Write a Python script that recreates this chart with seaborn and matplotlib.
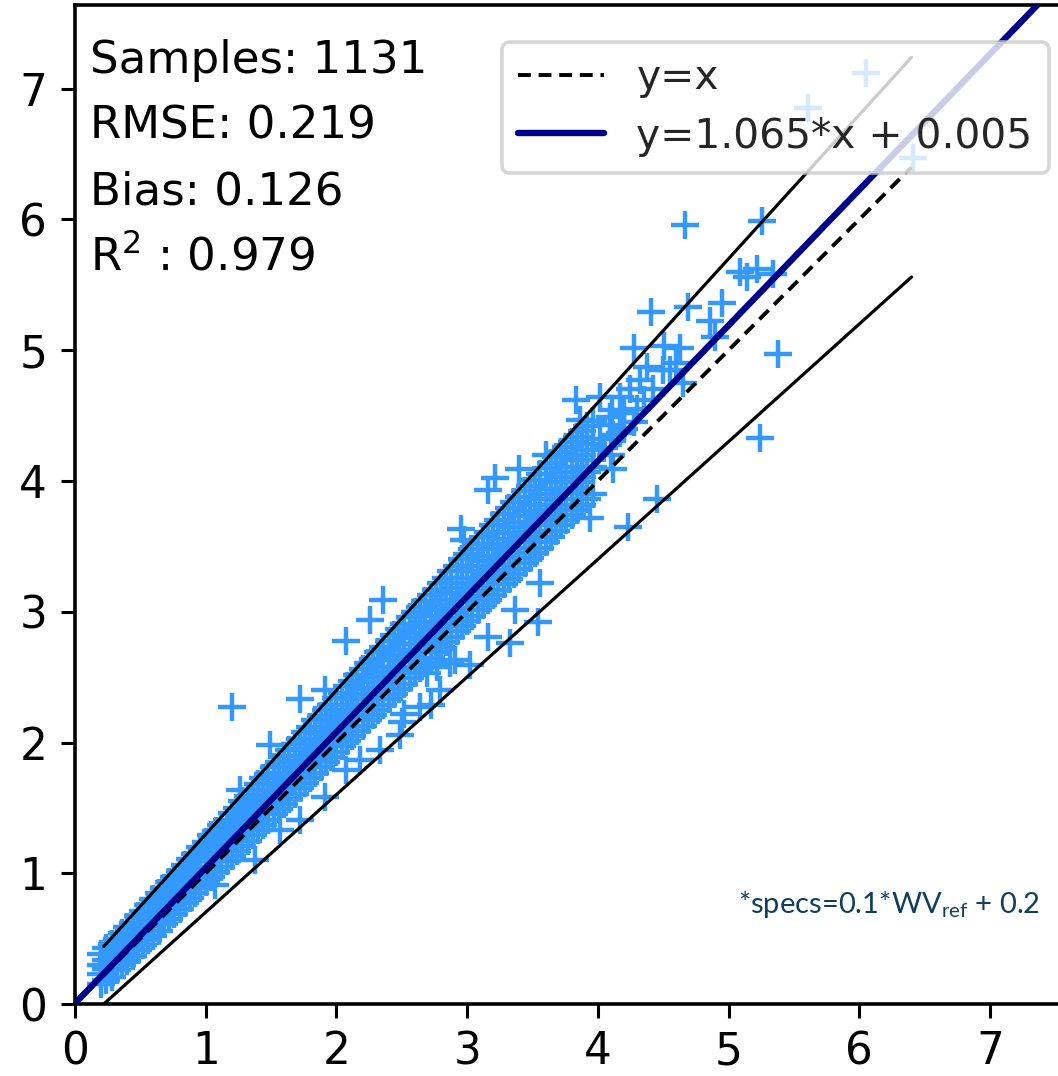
import numpy as np
import pandas as pd
import matplotlib
matplotlib.use("Agg")
import matplotlib.pyplot as plt
import seaborn as sns

# ---------------- data ----------------
band_x = [0.20, 0.28, 0.36, 0.44, 0.52, 0.60, 0.68, 0.76, 0.84, 0.92,
          1.00, 1.08, 1.16, 1.24, 1.32, 1.40, 1.48, 1.56, 1.64, 1.72,
          1.80, 1.88, 1.96, 2.04, 2.12, 2.20, 2.28, 2.36, 2.44, 2.52,
          2.60, 2.68, 2.76, 2.84, 2.92, 3.00, 3.08, 3.16, 3.24, 3.32,
          3.40, 3.48, 3.56, 3.64, 3.72, 3.80, 3.88, 3.96]
band_y = [
    [0.15, 0.23, 0.30, 0.38], [0.21, 0.31, 0.37, 0.46], [0.30, 0.39, 0.45, 0.54],
    [0.37, 0.47, 0.53, 0.62], [0.45, 0.56, 0.62, 0.71], [0.52, 0.64, 0.70, 0.80],
    [0.61, 0.72, 0.79, 0.89], [0.69, 0.80, 0.87, 0.97], [0.77, 0.89, 0.96, 1.06],
    [0.85, 0.97, 1.04, 1.15], [0.93, 1.05, 1.13, 1.24], [1.01, 1.13, 1.21, 1.32],
    [1.09, 1.22, 1.30, 1.41], [1.17, 1.30, 1.39, 1.50], [1.25, 1.38, 1.47, 1.59],
    [1.33, 1.46, 1.56, 1.68], [1.41, 1.55, 1.64, 1.76], [1.49, 1.63, 1.73, 1.85],
    [1.57, 1.71, 1.81, 1.94], [1.65, 1.80, 1.90, 2.03], [1.73, 1.88, 1.99, 2.12],
    [1.81, 1.96, 2.07, 2.20], [1.89, 2.04, 2.16, 2.29], [1.97, 2.13, 2.24, 2.38],
    [2.05, 2.21, 2.33, 2.47], [2.13, 2.29, 2.41, 2.56], [2.21, 2.37, 2.50, 2.64],
    [2.29, 2.46, 2.58, 2.73], [2.37, 2.54, 2.67, 2.82], [2.45, 2.62, 2.75, 2.91],
    [2.53, 2.70, 2.84, 3.00], [2.61, 2.79, 2.92, 3.08], [2.69, 2.87, 3.01, 3.17],
    [2.77, 2.95, 3.09, 3.26], [2.85, 3.03, 3.18, 3.35], [2.93, 3.12, 3.26, 3.44],
    [3.01, 3.20, 3.35, 3.52], [3.09, 3.28, 3.43, 3.61], [3.17, 3.36, 3.52, 3.70],
    [3.25, 3.45, 3.60, 3.79], [3.33, 3.53, 3.69, 3.88], [3.41, 3.61, 3.77, 3.96],
    [3.49, 3.70, 3.86, 4.05], [3.57, 3.78, 3.94, 4.14], [3.66, 3.86, 4.03, 4.22],
    [3.74, 3.95, 4.11, 4.30], [3.82, 4.03, 4.20, 4.38], [3.90, 4.11, 4.28, 4.46]]

band2_x = [0.24, 0.32, 0.40, 0.48, 0.56, 0.64, 0.72, 0.80, 0.88, 0.96,
           1.04, 1.12, 1.20, 1.28, 1.36, 1.44, 1.52, 1.60, 1.68, 1.76,
           1.84, 1.92, 2.00, 2.08, 2.16, 2.24, 2.32, 2.40, 2.48, 2.56,
           2.64, 2.72, 2.80, 2.88, 2.96, 3.04, 3.12, 3.20, 3.28, 3.36,
           3.44, 3.52, 3.60, 3.68, 3.76, 3.84, 3.92]
band2_y = [
    [0.18, 0.27, 0.34, 0.43], [0.26, 0.35, 0.41, 0.50], [0.33, 0.43, 0.49, 0.59],
    [0.41, 0.52, 0.58, 0.67], [0.49, 0.60, 0.66, 0.76], [0.56, 0.68, 0.75, 0.85],
    [0.65, 0.76, 0.83, 0.93], [0.73, 0.85, 0.92, 1.02], [0.81, 0.93, 1.00, 1.11],
    [0.89, 1.01, 1.09, 1.20], [0.97, 1.09, 1.17, 1.29], [1.05, 1.18, 1.26, 1.37],
    [1.13, 1.26, 1.35, 1.46], [1.21, 1.34, 1.43, 1.55], [1.29, 1.42, 1.52, 1.64],
    [1.37, 1.51, 1.60, 1.73], [1.45, 1.59, 1.69, 1.81], [1.53, 1.67, 1.77, 1.90],
    [1.61, 1.76, 1.86, 1.99], [1.69, 1.84, 1.95, 2.08], [1.77, 1.92, 2.03, 2.17],
    [1.85, 2.00, 2.12, 2.25], [1.93, 2.09, 2.20, 2.34], [2.01, 2.17, 2.29, 2.43],
    [2.09, 2.25, 2.37, 2.52], [2.17, 2.33, 2.46, 2.61], [2.25, 2.42, 2.54, 2.69],
    [2.33, 2.50, 2.63, 2.78], [2.41, 2.58, 2.71, 2.87], [2.49, 2.66, 2.80, 2.96],
    [2.57, 2.75, 2.88, 3.04], [2.65, 2.83, 2.97, 3.13], [2.73, 2.91, 3.05, 3.22],
    [2.81, 2.99, 3.14, 3.31], [2.89, 3.08, 3.22, 3.40], [2.97, 3.16, 3.31, 3.48],
    [3.05, 3.24, 3.39, 3.57], [3.13, 3.32, 3.48, 3.66], [3.21, 3.41, 3.56, 3.75],
    [3.29, 3.49, 3.65, 3.84], [3.37, 3.57, 3.73, 3.92], [3.45, 3.66, 3.82, 4.01],
    [3.53, 3.74, 3.90, 4.10], [3.62, 3.82, 3.99, 4.18], [3.70, 3.91, 4.07, 4.26],
    [3.78, 3.99, 4.16, 4.34], [3.86, 4.07, 4.24, 4.42]]

out_x = [1.07, 1.38, 1.72, 1.91, 2.07, 2.33, 2.52, 2.72, 2.91, 2.69,
         3.16, 3.33, 3.54, 3.37, 3.56, 3.94, 4.23, 4.45, 5.24, 5.38,
         2.79, 3.02, 2.49, 2.18, 1.57, 2.77, 2.87, 2.50, 2.64, 0.65,
         1.20, 2.36, 2.26, 2.07, 1.91, 1.72, 1.49, 1.26, 3.21, 3.16,
         2.95, 2.98, 3.40, 3.60, 3.83, 4.02, 3.86, 4.09, 4.11, 4.25,
         4.67, 5.26, 5.09, 5.22, 5.34, 5.14, 4.41, 4.69, 4.95, 4.86,
         4.90, 4.63, 4.28, 4.51, 4.38, 4.65, 4.17, 4.32, 4.50, 4.09,
         4.17, 4.02, 4.12, 4.05, 4.12, 4.20, 4.30, 4.35, 4.42, 4.55,
         4.60, 4.20, 4.28, 4.10, 6.05, 5.61, 6.41]
out_y = [0.91, 1.10, 1.41, 1.58, 1.79, 1.94, 2.22, 2.29, 2.63, 2.53,
         2.81, 2.76, 2.92, 3.01, 3.22, 3.72, 3.65, 3.86, 4.33, 4.97,
         2.40, 2.59, 2.06, 1.87, 1.33, 2.58, 2.61, 2.16, 2.27, 0.64,
         2.27, 3.09, 2.94, 2.78, 2.40, 2.33, 1.98, 1.64, 4.02, 3.93,
         3.63, 3.55, 4.09, 4.20, 4.62, 4.64, 4.47, 4.43, 4.54, 4.70,
         5.96, 5.99, 5.60, 5.62, 5.58, 5.56, 5.29, 5.33, 5.36, 5.22,
         5.10, 5.02, 5.02, 5.03, 4.87, 4.75, 4.64, 4.77, 4.85, 4.49,
         4.37, 4.32, 4.09, 4.25, 4.35, 4.40, 4.55, 4.62, 4.70, 4.85,
         4.90, 4.52, 4.45, 4.20, 7.12, 6.85, 6.47]

# reference lines (end points)
spec_x = [0.22, 6.40]
upper_y = [0.44, 7.24]
lower_y = [0.0, 5.56]
ident_y = [0.22, 6.40]
fit_x = [0.0, 8.0]
fit_y = [0.005, 8.301]

stats_lines = ["Samples: 1131", "RMSE: 0.219", "Bias: 0.126", r"R$^2$ : 0.979"]
legend_labels = ["y=x", "y=1.065*x + 0.005"]
note_text = r"*specs=0.1*WV$_\mathregular{ref}$ + 0.2"
ticks = [0, 1, 2, 3, 4, 5, 6, 7]

# ---------------- build table ----------------
xs, ys = [], []
for bx_list, by_list in ((band_x, band_y), (band2_x, band2_y)):
    for bx, row in zip(bx_list, by_list):
        for v in row:
            xs.append(bx)
            ys.append(v)
xs += out_x
ys += out_y
df = pd.DataFrame({"ref": xs, "est": ys})

sns.set_style("ticks")
plt.rcParams["font.family"] = ["DejaVu Sans"]

fig = plt.figure(figsize=(10.58, 10.76), dpi=100)
ax = fig.add_axes([0.0709, 0.0669, 0.9438, 0.9284])

sns.scatterplot(data=df, x="ref", y="est", marker="+", s=420, linewidth=3.2,
                color="#3399ff", ax=ax, zorder=2, legend=False)

ax.plot(spec_x, upper_y, color="black", lw=2.3, zorder=3)
ax.plot(spec_x, lower_y, color="black", lw=2.3, zorder=3)
l1, = ax.plot(spec_x, ident_y, color="black", lw=2.8, ls=(0, (3.3, 2.0)), zorder=4,
              label=legend_labels[0])
l2, = ax.plot(fit_x, fit_y, color="#00008b", lw=4.6, zorder=4, label=legend_labels[1])

ax.set_xlim(0, 7.64)
ax.set_ylim(0, 7.64)
ax.set_xticks(ticks)
ax.set_yticks(ticks)
ax.set_xticklabels([str(t) for t in ticks])
ax.set_yticklabels([str(t) for t in ticks])
ax.set_xlabel("")
ax.set_ylabel("")
ax.tick_params(axis="both", labelsize=31.5, length=10, width=2.2, colors="black")
ax.tick_params(axis="x", pad=9)
ax.tick_params(axis="y", pad=10)
for sp in ax.spines.values():
    sp.set_linewidth(2.6)
    sp.set_color("black")
    sp.set_visible(True)

ypos = [0.932, 0.866, 0.800, 0.734]
for txt, yp in zip(stats_lines, ypos):
    ax.text(0.015, yp, txt, transform=ax.transAxes, fontsize=32.5,
            va="baseline", ha="left", color="black", zorder=6)

leg = ax.legend(handles=[l1, l2], loc="upper left",
                bbox_to_anchor=(502 / 1058, 1 - 42 / 1076),
                bbox_transform=fig.transFigure, fontsize=29.3,
                borderaxespad=0, borderpad=0.4, labelspacing=0.45,
                handlelength=2.1, handletextpad=0.8, framealpha=0.8,
                fancybox=True)
leg.get_frame().set_linewidth(2.6)
leg.get_frame().set_edgecolor("#cccccc")
leg.set_zorder(10)

fig.text(738 / 1058, 1 - 913 / 1076, note_text, fontsize=21, family=["Lato", "DejaVu Sans"],
         color="#103f5b", ha="left", va="baseline")

fig.savefig("out.png", dpi=100)
